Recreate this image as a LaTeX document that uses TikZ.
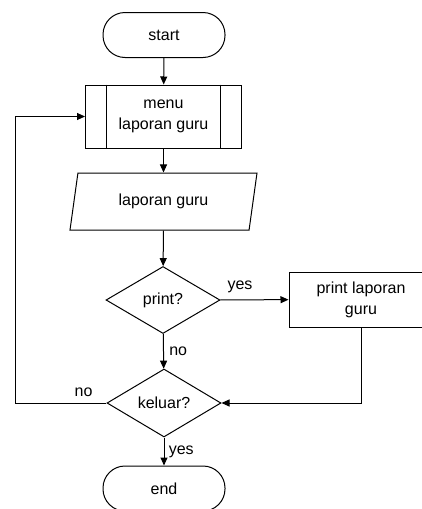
\documentclass[tikz,border=0pt]{standalone}
\usepackage{fontspec}
\setmainfont{Liberation Sans}
\usetikzlibrary{positioning,calc,shapes.geometric,arrows.meta}

\begin{document}
\begin{tikzpicture}[x=1pt,y=-1pt,line width=1pt]
            \tikzstyle{term}=[draw, rounded corners=22pt, minimum width=122pt,
            minimum height=45pt]
            \tikzstyle{box}=[draw, rectangle, align=center]
            \tikzstyle{dec}=[draw, diamond, inner sep=0pt, minimum width=114pt,
            minimum height=67pt, aspect=1.7]
            \tikzstyle{io}=[draw, trapezium, trapezium left angle=62,
            trapezium right angle=118, trapezium stretches body,
            minimum width=187pt, minimum height=57pt, inner sep=0pt]
            \tikzstyle{arr}=[-{Triangle[length=8pt,width=7pt]}]
            \tikzset{every node/.style={font=\fontsize{16}{21}\selectfont}}

            \useasboundingbox (0,0) rectangle (421,509);

            \node[term] (start) at (164,35) {start};
            \node[box, minimum width=156pt, minimum height=63pt] (menu)
            at (163.5,116.5) {menu\\laporan guru};
            \draw ([xshift=21pt]menu.north west) -- ([xshift=21pt]menu.south west);
            \draw ([xshift=-22pt]menu.north east) -- ([xshift=-22pt]menu.south east);
            \node[io] (lap) at (163.5,201.5) {laporan guru};
            \node[dec] (print) at (163,300) {print?};
            \node[box, minimum width=144pt, minimum height=55pt] (cetak)
            at (361,299.5) {print laporan\\guru};
            \node[dec, minimum height=68pt] (keluar) at (164,403) {keluar?};
            \node[term] (end) at (164,488.5) {end};

            \coordinate (kiri) at (15,403);
            \coordinate (kanan) at (361,403);

            \draw[arr] (start) -- (menu);
            \draw[arr] (menu) -- (lap);
            \draw[arr] (lap) -- (print);
            \draw[arr] (print) -- node[pos=0.29, above=3pt] {yes} (cetak);
            \draw[arr] (print) -- node[right=2pt] {no} (keluar);
            \draw[arr] (cetak) -- (kanan) -- (keluar);
            \draw[arr] (keluar) -- node[pos=0.25, above=3pt] {no} (kiri) |- (menu);
            \draw[arr] (keluar) -- node[right=1pt] {yes} (end);
        \end{tikzpicture}
\end{document}
